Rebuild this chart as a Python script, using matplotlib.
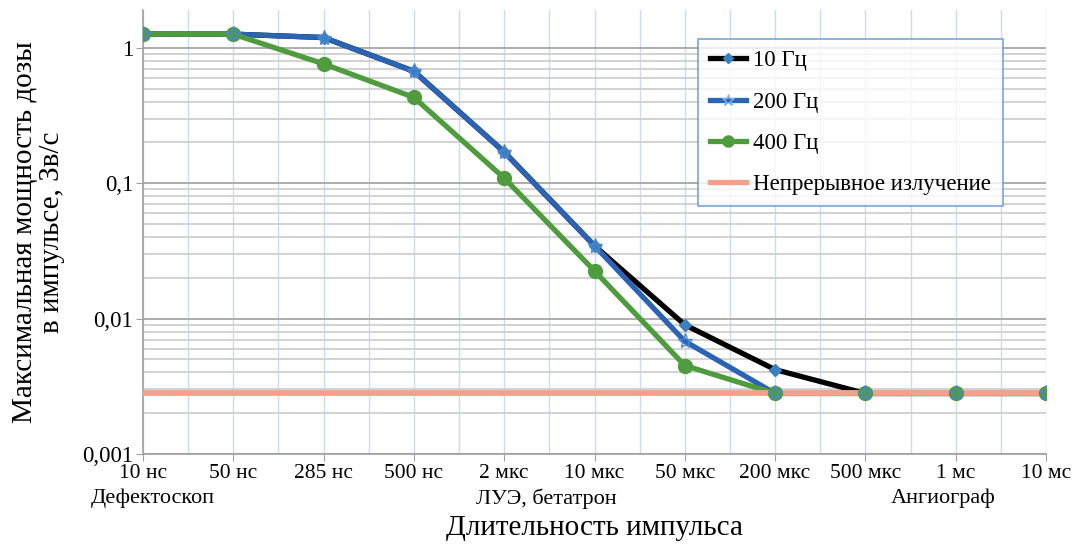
import numpy as np
from matplotlib import pyplot as plt
from matplotlib.ticker import FixedLocator, NullFormatter

plt.rcParams['font.family'] = ['Liberation Serif', 'DejaVu Serif']

categories = ['10 нс', '50 нс', '285 нс', '500 нс', '2 мкс', '10 мкс',
              '50 мкс', '200 мкс', '500 мкс', '1 мс', '10 мс']
groups = ['Дефектоскоп', 'ЛУЭ, бетатрон', 'Ангиограф']
group_pos = [0.11, 4.47, 8.86]

hz10 = [1.26, 1.26, 1.19, 0.67, 0.17, 0.0345, 0.0090, 0.0042, 0.0028, 0.0028, 0.0028]
hz200 = [1.26, 1.26, 1.19, 0.67, 0.17, 0.0345, 0.0068, 0.0028, 0.0028, 0.0028, 0.0028]
hz400 = [1.26, 1.26, 0.76, 0.43, 0.109, 0.0225, 0.0045, 0.0028, 0.0028, 0.0028, 0.0028]
continuous = 0.0028

x = np.arange(len(categories))

fig = plt.figure(figsize=(10.79, 5.44), dpi=100)
ax = fig.add_axes([143/1079, 1 - 454/544, 903/1079, 444/544])

ax.set_yscale('log')
ax.set_ylim(0.001, 1.9)
ax.set_xlim(0, len(categories) - 1)

# grid
ax.set_xticks(x)
ax.xaxis.set_minor_locator(FixedLocator(x[:-1] + 0.5))
ax.grid(True, which='major', axis='y', color='#a6a6a6', linewidth=1.3)
ax.grid(True, which='minor', axis='y', color='#cfcfcf', linewidth=1.3)
ax.grid(True, which='both', axis='x', color='#c9dcf0', linewidth=1.0)
ax.yaxis.set_minor_formatter(NullFormatter())
ax.set_yticks([0.001, 0.01, 0.1, 1])
ax.set_yticklabels(['0,001', '0,01', '0,1', '1'], fontsize=16.5)
ax.set_xticklabels(categories, fontsize=15.5)
ax.tick_params(axis='y', which='minor', length=0)
ax.tick_params(axis='x', which='minor', length=0)
ax.tick_params(axis='both', which='major', color='#a0a0a0', length=5, pad=2)
for s in ['top', 'right']:
    ax.spines[s].set_visible(False)
for s in ['left', 'bottom']:
    ax.spines[s].set_color('#a0a0a0')
    ax.spines[s].set_linewidth(1.2)

lw = 3.8
ax.plot(x, hz10, '-', color='black', linewidth=lw, zorder=3)
ax.plot(x, hz200, '-', color='#2b63b5', linewidth=lw, zorder=3)
ax.plot(x, hz400, '-', color='#4f9c3f', linewidth=lw, zorder=3)
ax.axhline(continuous, color='#f4a08a', linewidth=4.2, zorder=4)
ax.plot(x, hz10, 'D', color='#3a7fc0', markersize=6, zorder=5)
ax.plot(x, hz400, 'o', color='#4f9c3f', markersize=10, zorder=5)
ax.plot(x, hz200, '*', color='#4a86d0', markersize=11, zorder=6,
        markerfacecolor='none', markeredgewidth=1.0)

# legend
h1, = ax.plot([], [], '-D', color='black', linewidth=lw, markersize=5,
              markerfacecolor='#3a7fc0', markeredgecolor='#3a7fc0')
h2, = ax.plot([], [], '-*', color='#2b63b5', linewidth=lw, markersize=9,
              markerfacecolor='none', markeredgecolor='#7fb0e8')
h3, = ax.plot([], [], '-o', color='#4f9c3f', linewidth=lw, markersize=8)
h4, = ax.plot([], [], '-', color='#f4a08a', linewidth=lw)
leg = ax.legend([h1, h2, h3, h4], ['10 Гц', '200 Гц', '400 Гц', 'Непрерывное излучение'],
                loc='upper left', bbox_to_anchor=(0.615, 0.935), fontsize=16.5,
                frameon=True, fancybox=False, handlelength=1.6, handletextpad=0.3,
                labelspacing=0.88, borderpad=0.5, borderaxespad=0)
leg.get_frame().set_edgecolor('#5b8fd0')
leg.get_frame().set_linewidth(1.2)
leg.set_zorder(10)

for g, p in zip(groups, group_pos):
    ax.text(p, -0.1, g, transform=ax.get_xaxis_transform(), ha='center',
            va='center', fontsize=16)

ax.set_xlabel('Длительность импульса', fontsize=21, labelpad=23)
ax.set_ylabel('Максимальная мощность дозы\nв импульсе, Зв/с', fontsize=21,
              labelpad=12, linespacing=1.05)

fig.savefig('out.png', dpi=100)
